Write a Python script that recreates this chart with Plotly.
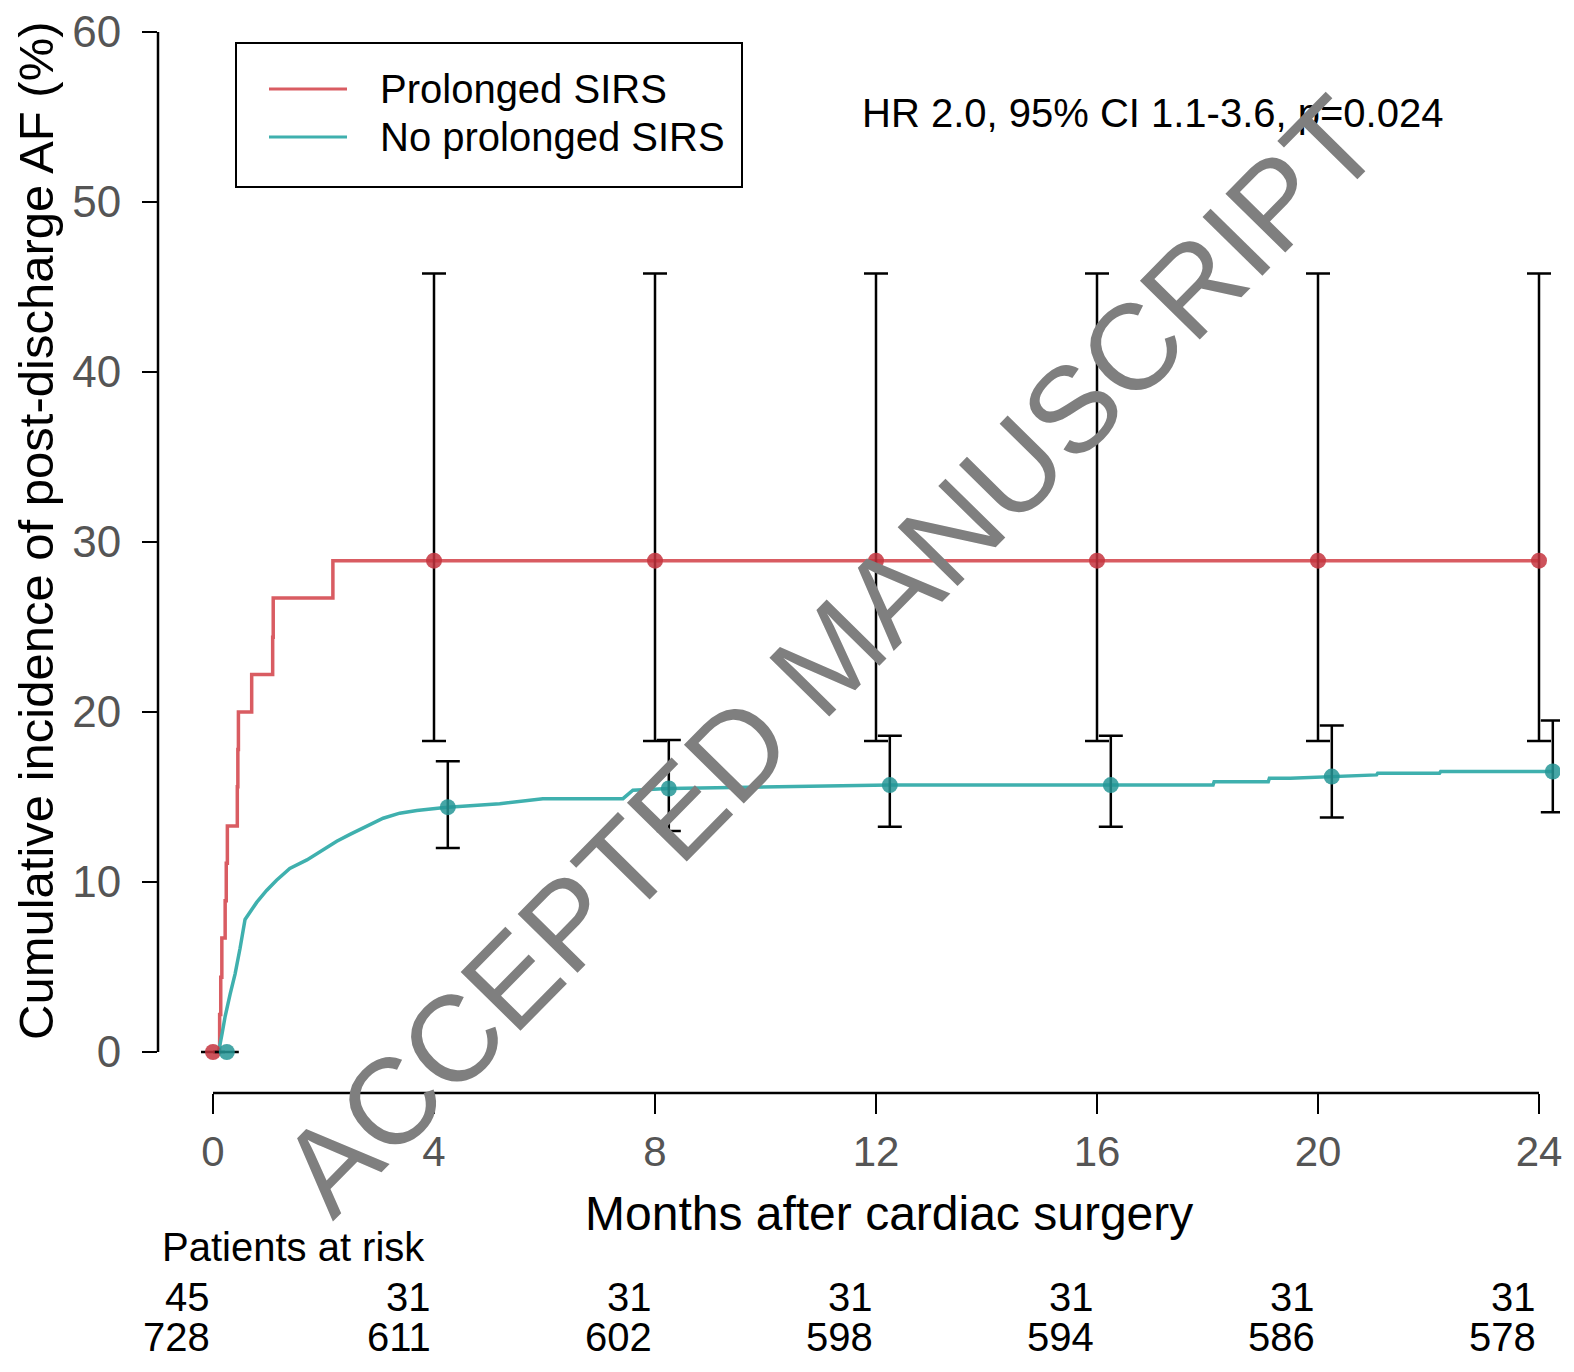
import plotly.graph_objects as go

# ---------------- data ----------------
red_t = [0, 0.12, 0.14, 0.16, 0.22, 0.24, 0.26, 0.44, 0.45, 0.46, 0.70, 1.08, 1.09, 2.17, 24]
red_v = [0, 2.2, 4.4, 6.7, 8.9, 11.1, 13.3, 15.6, 17.8, 20.0, 22.2, 24.4, 26.7, 28.9, 28.9]

blue_t = [0, 0.10, 0.16, 0.22, 0.31, 0.40, 0.49, 0.58, 0.79, 0.97, 1.15, 1.39, 1.70, 2.0,
          2.24, 2.48, 2.78, 3.08, 3.38, 3.69, 4.11, 4.25, 5.19, 5.97, 7.42, 7.6, 8.25,
          12.25, 18.1, 18.12, 19.1, 19.12, 19.5, 20.25, 21.06, 21.08, 22.2, 22.22, 24.25]
blue_v = [0, 0, 1.0, 2.1, 3.4, 4.6, 6.1, 7.8, 8.8, 9.5, 10.1, 10.8, 11.3, 11.9,
          12.4, 12.8, 13.3, 13.75, 14.05, 14.2, 14.35, 14.4, 14.6, 14.9, 14.9, 15.4, 15.5,
          15.7, 15.7, 15.9, 15.9, 16.1, 16.1, 16.2, 16.3, 16.4, 16.4, 16.5, 16.5]

ci_times = [0, 4, 8, 12, 16, 20, 24]
red_est = [0, 28.9, 28.9, 28.9, 28.9, 28.9, 28.9]
red_lo = [0, 18.3, 18.3, 18.3, 18.3, 18.3, 18.3]
red_hi = [0, 45.8, 45.8, 45.8, 45.8, 45.8, 45.8]
blue_est = [0, 14.4, 15.5, 15.7, 15.7, 16.2, 16.5]
blue_lo = [0, 12.0, 13.0, 13.25, 13.25, 13.8, 14.1]
blue_hi = [0, 17.1, 18.35, 18.6, 18.6, 19.2, 19.5]

x_ticks = [0, 4, 8, 12, 16, 20, 24]
y_ticks = [0, 10, 20, 30, 40, 50, 60]
risk_prolonged = [45, 31, 31, 31, 31, 31, 31]
risk_no = [728, 611, 602, 598, 594, 586, 578]

group_names = ["Prolonged SIRS", "No prolonged SIRS"]
hr_text = "HR 2.0, 95% CI 1.1-3.6, p=0.024"

# ---------------- layout geometry ----------------
W, H = 1574, 1372
ML, MR, MT, MB = 158, 14, 0, 279
PW = W - ML - MR
PH = H - MT - MB


def px(x):
    return (x - ML) / PW


def py(y):
    return (H - MB - y) / PH


FONT = "Liberation Sans, Arial, sans-serif"
RED = "#d95c62"
TEAL = "#3fb0ae"
RED_M = "rgba(196,52,62,0.85)"
TEAL_M = "rgba(38,150,150,0.85)"
DODGE = 0.25

fig = go.Figure()

fig.add_trace(go.Scatter(x=red_t, y=red_v, mode="lines", line=dict(color=RED, width=3.5, shape="hv"),
                         name=group_names[0], showlegend=False))
fig.add_trace(go.Scatter(x=blue_t, y=blue_v, mode="lines", line=dict(color=TEAL, width=3.5),
                         name=group_names[1], showlegend=False))

fig.add_trace(go.Scatter(
    x=ci_times, y=red_est, mode="markers",
    marker=dict(color=RED_M, size=16),
    error_y=dict(type="data", symmetric=False,
                 array=[h - e for h, e in zip(red_hi, red_est)],
                 arrayminus=[e - l for e, l in zip(red_est, red_lo)],
                 color="black", thickness=2.5, width=12),
    showlegend=False))
fig.add_trace(go.Scatter(
    x=[t + DODGE for t in ci_times], y=blue_est, mode="markers",
    marker=dict(color=TEAL_M, size=16),
    error_y=dict(type="data", symmetric=False,
                 array=[h - e for h, e in zip(blue_hi, blue_est)],
                 arrayminus=[e - l for e, l in zip(blue_est, blue_lo)],
                 color="black", thickness=2.5, width=12),
    showlegend=False))

x0_px, x24_px = 213, 1539
ppm = (x24_px - x0_px) / 24.0
x_min = -(x0_px - ML) / ppm
x_max = 24 + (W - MR - x24_px) / ppm
y0_px, y60_px = 1052, 32
ppp = (y0_px - y60_px) / 60.0
y_min = -((H - MB) - y0_px) / ppp
y_max = 60 + (y60_px - MT) / ppp

fig.update_xaxes(range=[x_min, x_max], tickmode="array", tickvals=x_ticks,
                 ticktext=[str(v) for v in x_ticks],
                 ticks="outside", ticklen=20, tickwidth=2, tickcolor="black",
                 showline=False, showgrid=False, zeroline=False,
                 tickfont=dict(family=FONT, size=42, color="#555555"),
                 ticklabelstandoff=2)
fig.update_yaxes(range=[y_min, y_max], tickmode="array", tickvals=y_ticks,
                 ticktext=[str(v) for v in y_ticks],
                 ticks="outside", ticklen=15, tickwidth=2, tickcolor="black",
                 showline=False, showgrid=False, zeroline=False,
                 tickfont=dict(family=FONT, size=44, color="#555555"),
                 ticklabelstandoff=12)

shapes = [
    dict(type="line", xref="x domain", yref="y", x0=0, x1=0, y0=0, y1=60,
         line=dict(color="black", width=2.5)),
    dict(type="line", xref="x", yref="y domain", x0=0, x1=24, y0=0, y1=0,
         line=dict(color="black", width=2.5)),
    # legend box
    dict(type="rect", xref="paper", yref="paper", x0=px(236), x1=px(742), y0=py(187), y1=py(43),
         line=dict(color="black", width=2), fillcolor="rgba(0,0,0,0)"),
    dict(type="line", xref="paper", yref="paper", x0=px(269), x1=px(347), y0=py(89), y1=py(89),
         line=dict(color=RED, width=3)),
    dict(type="line", xref="paper", yref="paper", x0=px(269), x1=px(347), y0=py(137), y1=py(137),
         line=dict(color=TEAL, width=3)),
]

ann = [
    dict(text=group_names[0], x=px(378), y=py(89), xanchor="left", yanchor="middle"),
    dict(text=group_names[1], x=px(378), y=py(137), xanchor="left", yanchor="middle"),
    dict(text=hr_text, x=px(860), y=py(113), xanchor="left", yanchor="middle"),
    dict(text="Patients at risk", x=px(160), y=py(1247), xanchor="left", yanchor="middle"),
]
for a in ann:
    a.update(xref="paper", yref="paper", showarrow=False,
             font=dict(family=FONT, size=40, color="black"))

ann.append(dict(text="Months after cardiac surgery", xref="paper", yref="paper",
                x=px(889), y=py(1213), xanchor="center", yanchor="middle", showarrow=False,
                font=dict(family=FONT, size=48, color="black")))
ann.append(dict(text="Cumulative incidence of post-discharge AF (%)", xref="paper", yref="paper",
                x=px(36), y=py(531), xanchor="center", yanchor="middle", showarrow=False,
                textangle=-90, font=dict(family=FONT, size=49, color="black")))

for t, a_, b_ in zip(x_ticks, risk_prolonged, risk_no):
    ann.append(dict(text=str(a_), xref="x", yref="paper", x=t, y=py(1297), xanchor="right",
                    yanchor="middle", xshift=-1, showarrow=False,
                    font=dict(family=FONT, size=40, color="black")))
    ann.append(dict(text=str(b_), xref="x", yref="paper", x=t, y=py(1337), xanchor="right",
                    yanchor="middle", xshift=-1, showarrow=False,
                    font=dict(family=FONT, size=40, color="black")))

# watermark
ann.append(dict(text="ACCEPTED MANUSCRIPT", xref="paper", yref="paper", x=px(830), y=py(656),
                xanchor="center", yanchor="middle", showarrow=False, textangle=-45.5,
                font=dict(family=FONT, size=122, color="#7f7f7f")))

fig.update_layout(width=W, height=H, margin=dict(l=ML, r=MR, t=MT, b=MB, pad=0),
                  plot_bgcolor="white", paper_bgcolor="white",
                  shapes=shapes, annotations=ann, showlegend=False)

fig.write_html("out.html")
